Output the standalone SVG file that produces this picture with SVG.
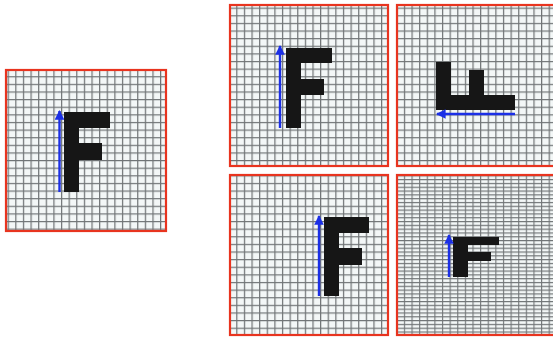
<svg xmlns="http://www.w3.org/2000/svg" width="553" height="339" viewBox="0 0 553 339">
<style>
.bg{fill:#f3f7f7}
.frame{fill:none;stroke:#e8341f;stroke-width:2.2}
.f{fill:#161616}
.arr{stroke:#1b2fe6;stroke-width:2.4;fill:none;marker-end:url(#ah)}
</style>
<defs>
<marker id="ah" viewBox="0 0 10 10" refX="9" refY="5" markerWidth="4.2" markerHeight="4" orient="auto" markerUnits="strokeWidth">
<path d="M0,0 L10,5 L0,10 Z" fill="#1b2fe6"/>
</marker>
<pattern id="g" patternUnits="userSpaceOnUse" width="7.62" height="7.62">
<rect width="7.62" height="7.62" fill="#f3f7f7"/>
<path d="M0,0.6 H7.62 M0.6,0 V7.62" stroke="#44484a" stroke-width="1.25" stroke-opacity="0.75"/>
</pattern>
<pattern id="g2" patternUnits="userSpaceOnUse" width="7.62" height="3.81">
<rect width="7.62" height="3.81" fill="#f3f7f7"/>
<path d="M0,0.6 H7.62 M0.6,0 V3.81" stroke="#44484a" stroke-width="1.1" stroke-opacity="0.75"/>
</pattern>
</defs>
<rect width="553" height="339" fill="#ffffff"/>

<g id="panel-original">
<rect x="6" y="70" width="160" height="161" fill="url(#g)"/>
<rect class="frame" x="6" y="70" width="160" height="161"/>
<g class="f"><rect x="64" y="112" width="15" height="80"/><rect x="64" y="112" width="46" height="16"/><rect x="64" y="143" width="38" height="17"/></g>
<line class="arr" x1="59.5" y1="192" x2="59.5" y2="111"/>
</g>

<g id="panel-same">
<rect x="230" y="5" width="158" height="161" fill="url(#g)"/>
<rect class="frame" x="230" y="5" width="158" height="161"/>
<g class="f"><rect x="286" y="48" width="15" height="80"/><rect x="286" y="48" width="46" height="15"/><rect x="286" y="79" width="38" height="16"/></g>
<line class="arr" x1="280" y1="128" x2="280" y2="46"/>
</g>

<g id="panel-rotated">
<rect x="397" y="5" width="160" height="161" fill="url(#g)"/>
<rect class="frame" x="397" y="5" width="160" height="161"/>
<g class="f"><rect x="436" y="95" width="79" height="15"/><rect x="436" y="62" width="15" height="48"/><rect x="469" y="70" width="15" height="40"/></g>
<line class="arr" x1="515" y1="114" x2="437" y2="114"/>
</g>

<g id="panel-translated">
<rect x="230" y="175" width="158" height="160" fill="url(#g)"/>
<rect class="frame" x="230" y="175" width="158" height="160"/>
<g class="f"><rect x="324" y="217" width="15" height="79"/><rect x="324" y="217" width="45" height="16"/><rect x="324" y="248" width="38" height="17"/></g>
<line class="arr" x1="319" y1="296" x2="319" y2="216"/>
</g>

<g id="panel-scaled">
<rect x="397" y="175" width="160" height="160" fill="url(#g2)"/>
<rect class="frame" x="397" y="175" width="160" height="160"/>
<g class="f"><rect x="453" y="237" width="15" height="40"/><rect x="453" y="237" width="46" height="8"/><rect x="453" y="252" width="38" height="9"/></g>
<line class="arr" x1="449" y1="277" x2="449" y2="235"/>
</g>
</svg>
